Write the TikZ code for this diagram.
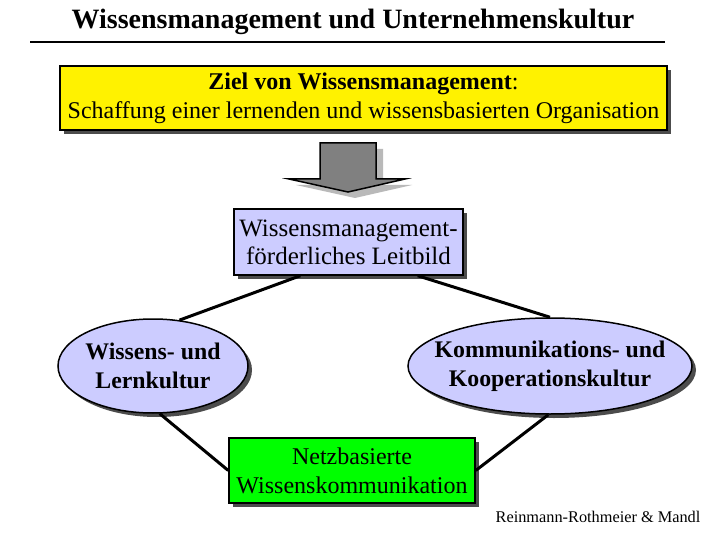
\documentclass[tikz,border=0pt]{standalone}
\usepackage{fontspec}
\setmainfont{Liberation Serif}
\usetikzlibrary{shapes,arrows,positioning,fit,calc,shadows}
\definecolor{lavender}{RGB}{204,204,255}
\definecolor{netzgreen}{RGB}{0,255,0}

\begin{document}
\begin{tikzpicture}[
        x=1pt, y=-1pt,
        box/.style={rectangle, draw=black, line width=1.5pt, align=center, inner sep=0pt, font=\fontsize{24}{29}\selectfont, drop shadow={shadow xshift=4pt, shadow yshift=-4pt, fill=black!70, opacity=1}},
        culture/.style={ellipse, draw=black, line width=1.5pt, fill=lavender, inner sep=0pt, drop shadow={shadow xshift=4pt, shadow yshift=-4pt, fill=black!70, opacity=1}},
        culturetext/.style={align=center, font=\fontsize{23.8}{29}\selectfont\bfseries},
        link/.style={line width=3pt}
    ]
    \useasboundingbox[fill=white] (0,0) rectangle (720,540);

    % Title
    \node[font=\fontsize{28}{32}\selectfont\bfseries] (title) at (353,22) {Wissensmanagement und Unternehmenskultur};
    \coordinate (rule-l) at (30,42);
    \coordinate (rule-r) at (665,42);
    \draw[line width=1.5pt] (rule-l) -- (rule-r);

    % Goal
    \node[box, fill=yellow, minimum width=607pt, minimum height=64pt] (goal) at (363.5,98) {\textbf{Ziel von Wissensmanagement}:\\Schaffung einer lernenden und wissensbasierten Organisation};

    % Arrow
    \fill[gray!55, shift={(7,6)}] (320,143) -- (376,143) -- (376,179) -- (405,179) -- (348,192) -- (289,179) -- (320,179) -- cycle;
    \draw[fill=gray, line width=1.5pt, line join=miter] (320,143) -- (376,143) -- (376,179) -- (405,179) -- (348,192) -- (289,179) -- (320,179) -- cycle;

    % Leitbild
    \node[box, fill=lavender, minimum width=229pt, minimum height=66pt, font=\fontsize{25}{28}\selectfont] (leitbild) at (348.5,242) {Wissensmanagement-\\f\"orderliches Leitbild};

    % Cultures
    \node[culture, minimum width=190pt, minimum height=94pt, label={[culturetext]center:Wissens- und\\Lernkultur}] (lernkultur) at (153,366) {};
    \node[culture, minimum width=284pt, minimum height=96pt, label={[culturetext]center:Kommunikations- und\\Kooperationskultur}] (kooperation) at (550,366) {};

    % Communication
    \node[box, fill=netzgreen, minimum width=246pt, minimum height=65pt] (netz) at (352,470.5) {Netzbasierte\\Wissenskommunikation};

    % Source
    \node[font=\fontsize{16.3}{18}\selectfont] (source) at (598,517) {Reinmann-Rothmeier \& Mandl};

    % Connections
    \draw[link] (leitbild.215) -- (lernkultur.60);
    \draw[link] (leitbild.-26) -- (kooperation.90);
    \draw[link] (lernkultur.-82) -- (netz.west);
    \draw[link] (netz.east) -- (kooperation.-92);

\end{tikzpicture}
\end{document}
